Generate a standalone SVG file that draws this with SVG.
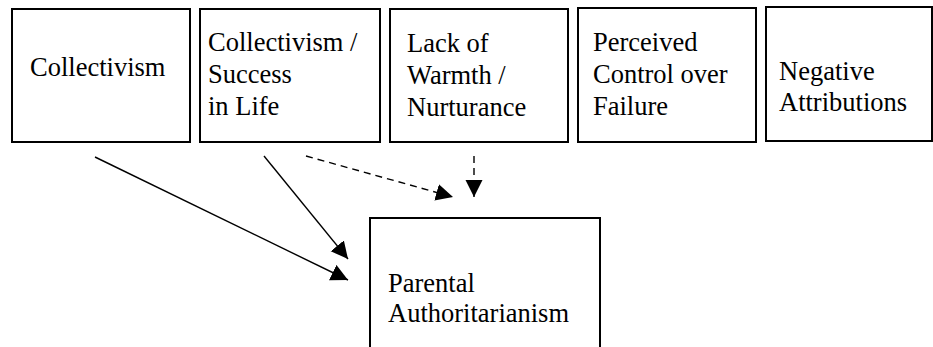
<svg xmlns="http://www.w3.org/2000/svg" width="933" height="347" viewBox="0 0 933 347">
<style>
.box{fill:#fff;stroke:#000;stroke-width:2}
.t{font-family:"Liberation Serif","Times New Roman",serif;font-size:26.5px;fill:#000}
.c{stroke:#000;stroke-width:1.4;fill:none}
.d{stroke-dasharray:7 5}
</style>
<defs>
<marker id="ah" markerUnits="userSpaceOnUse" markerWidth="19" markerHeight="18" refX="17" refY="8.5" orient="auto">
<path d="M0,0 L17,8.5 L0,17 z" fill="#000"/>
</marker>
</defs>
<rect width="933" height="347" fill="#fff"/>
<g id="n1"><rect class="box" x="12" y="9" width="178" height="133"/><text class="t" x="30" y="76">Collectivism</text></g>
<g id="n2"><rect class="box" x="200" y="9" width="180" height="133"/><text class="t" x="208" y="51">Collectivism /</text><text class="t" x="208" y="83">Success</text><text class="t" x="208" y="115">in Life</text></g>
<g id="n3"><rect class="box" x="390" y="9" width="178" height="133"/><text class="t" x="407" y="52">Lack of</text><text class="t" x="407" y="84">Warmth /</text><text class="t" x="407" y="116">Nurturance</text></g>
<g id="n4"><rect class="box" x="578" y="8" width="178" height="134"/><text class="t" x="593" y="51">Perceived</text><text class="t" x="593" y="83">Control over</text><text class="t" x="593" y="115">Failure</text></g>
<g id="n5"><rect class="box" x="766" y="7" width="166" height="134"/><text class="t" x="779" y="80">Negative</text><text class="t" x="779" y="111">Attributions</text></g>
<g id="n6"><rect class="box" x="370" y="218" width="230" height="140"/><text class="t" x="388" y="292">Parental</text><text class="t" x="388" y="322">Authoritarianism</text></g>
<g id="connectors">
<line class="c" x1="95" y1="157" x2="348" y2="280" marker-end="url(#ah)"/>
<line class="c" x1="264" y1="156" x2="348" y2="259" marker-end="url(#ah)"/>
<line class="c d" x1="306" y1="156" x2="453" y2="197" marker-end="url(#ah)"/>
<line class="c d" x1="474" y1="156" x2="474" y2="197" marker-end="url(#ah)"/>
</g>
</svg>
